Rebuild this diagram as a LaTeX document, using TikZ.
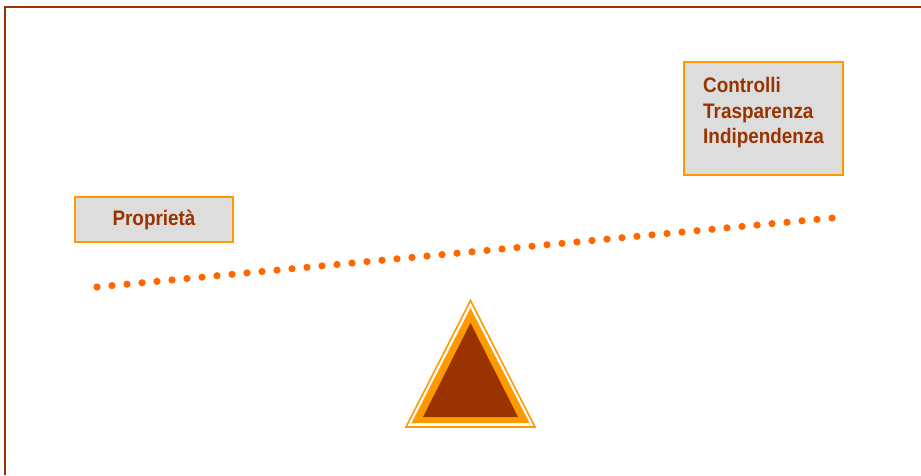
\documentclass[tikz,border=0pt]{standalone}
\usepackage{fontspec}
\setmainfont{Liberation Sans}[FakeStretch=0.9]
\usetikzlibrary{calc}
\definecolor{brown}{HTML}{993300}
\definecolor{boxorange}{HTML}{FF9900}
\definecolor{boxfill}{HTML}{DDDDDD}
\definecolor{dotorange}{HTML}{FF6600}
\tikzset{
  labelbox/.style={draw=boxorange, line width=1.5pt, fill=boxfill, inner sep=0pt},
  labeltext/.style={text=brown, font=\fontsize{21}{25.5}\selectfont\bfseries, inner sep=0pt},
  frameline/.style={draw=brown, line width=2pt},
  dotstyle/.style={fill=dotorange},
}
\begin{document}
\begin{tikzpicture}[x=1pt,y=-1pt]
\useasboundingbox (0,0) rectangle (921,475);
% frame
\coordinate (ftl) at (4.5,7);
\coordinate (ftr) at (921,7);
\coordinate (fbl) at (4.5,475);
\draw[frameline] (fbl) -- (ftl) -- (ftr);
% boxes
\node[labelbox, minimum width=158pt, minimum height=45pt] (prop) at (154,219.5) {};
\node[labeltext] (proptext) at (prop.center) {Proprietà};
\node[labelbox, minimum width=159pt, minimum height=113pt] (ctrl) at (763.5,118.5) {};
\node[labeltext, align=left, anchor=north west] (ctrltext) at (703,77.5) {Controlli\\Trasparenza\\Indipendenza};
% dotted beam
\coordinate (dl) at (97,287);
\coordinate (dr) at (832,218);
\foreach \i in {0,...,49}
  \fill[dotstyle] ($(dl)!\i/49!(dr)$) circle (3.6pt);
% fulcrum triangle
\draw[draw=boxorange, line width=1.6pt, line join=miter] (470.5,300.5) -- (535,427) -- (406,427) -- cycle;
\fill[boxorange] (470.5,308) -- (529.5,423) -- (411.5,423) -- cycle;
\fill[brown] (470.5,323) -- (518,417) -- (423,417) -- cycle;
\end{tikzpicture}
\end{document}
